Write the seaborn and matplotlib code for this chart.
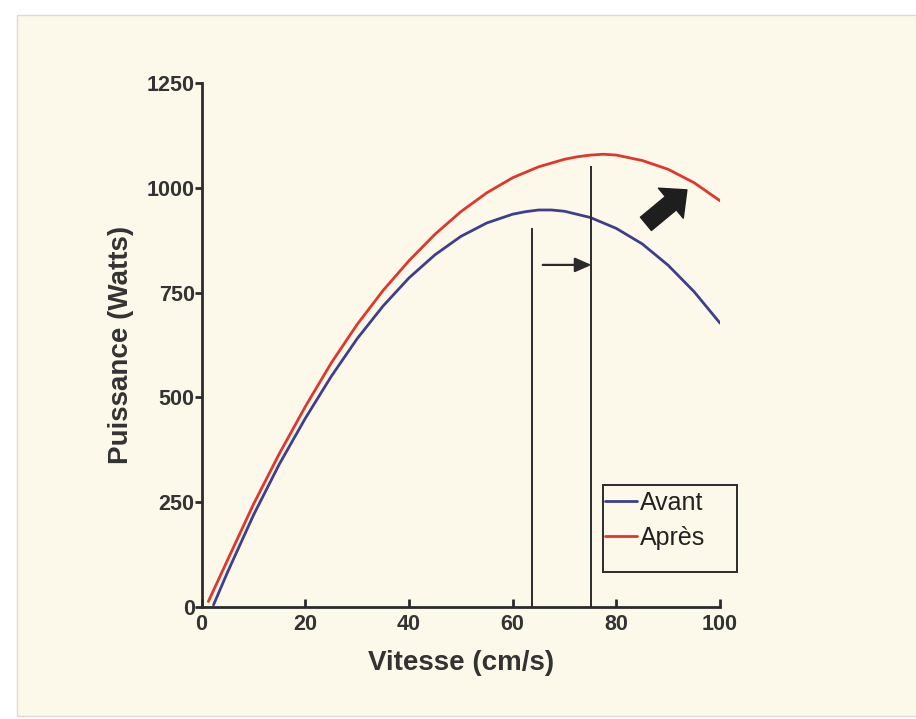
import numpy as np
import pandas as pd
import matplotlib
matplotlib.use("Agg")
import matplotlib.pyplot as plt
from matplotlib.patches import Rectangle
from matplotlib.lines import Line2D
import seaborn as sns

# Values
vitesse_avant = [2.3, 5, 10, 15, 20, 25, 30, 35, 40, 45, 50, 55, 60, 62.5, 65, 67.5, 70, 75, 80, 85, 90, 95, 100]
puissance_avant = [5, 83, 219, 341, 450, 550, 640, 718, 785, 840, 884, 916, 937, 943, 947, 947, 944, 929, 903, 866, 815, 752, 677]

vitesse_apres = [1.3, 5, 10, 15, 20, 25, 30, 35, 40, 45, 50, 55, 60, 65, 70, 72.5, 75, 77.5, 80, 85, 90, 95, 100]
puissance_apres = [13, 112, 245, 366, 478, 582, 674, 755, 826, 889, 943, 988, 1024, 1050, 1068, 1074, 1078, 1080, 1078, 1065, 1044, 1012, 969]

series = ["Avant", "Après"]
colors = ["#3d3f8e", "#e0372c"]

# vertical markers at the two peaks and the annotation arrows
peak_x = [63.7, 75.2]
peak_top = [905, 1052]
shift_arrow_x = [65.8, 75.2]
shift_arrow_y = 816
trend_arrow_start = (85.7, 914)
trend_arrow_end = (93.6, 995)

x_ticks = [0, 20, 40, 60, 80, 100]
y_ticks = [0, 250, 500, 750, 1000, 1250]

df = pd.concat([
    pd.DataFrame({"Vitesse": vitesse_avant, "Puissance": puissance_avant, "serie": "Avant"}),
    pd.DataFrame({"Vitesse": vitesse_apres, "Puissance": puissance_apres, "serie": "Après"}),
])

sns.set_style("ticks")
plt.rcParams["font.family"] = ["Liberation Sans", "DejaVu Sans"]

cream = "#fcf9ea"
ink = "#2b2b2b"

fig = plt.figure(figsize=(9.16, 7.19), dpi=100)
fig.patch.set_facecolor("white")
# cream card behind the chart
fig.patches.append(Rectangle((17 / 916, 3 / 719), 1, 1 - 18 / 719, transform=fig.transFigure,
                             facecolor=cream, edgecolor="#dedbd2", linewidth=1, zorder=-10))

ax = fig.add_axes([0.2201, 0.1558, 0.566, 0.7288])
ax.set_facecolor("none")

sns.lineplot(data=df, x="Vitesse", y="Puissance", hue="serie", hue_order=series,
             palette=colors, estimator=None, sort=False, linewidth=2.0, legend=False, ax=ax)

ax.vlines(peak_x, 0, peak_top, color=ink, linewidth=1.4, zorder=3)
ax.annotate("", xy=(shift_arrow_x[1], shift_arrow_y), xytext=(shift_arrow_x[0], shift_arrow_y),
            arrowprops=dict(arrowstyle="-|>,head_length=0.5,head_width=0.22", color=ink,
                            linewidth=1.6, mutation_scale=20, shrinkA=0, shrinkB=0))
ax.annotate("", xy=trend_arrow_end, xytext=trend_arrow_start,
            arrowprops=dict(arrowstyle="simple,head_length=0.75,head_width=1.4,tail_width=0.62",
                            color="#1e1e1e", mutation_scale=20, shrinkA=0, shrinkB=0))

ax.set_xlim(0, 100)
ax.set_ylim(0, 1250)
ax.set_xticks(x_ticks)
ax.set_yticks(y_ticks)
sns.despine(ax=ax)
for side in ["left", "bottom"]:
    ax.spines[side].set_linewidth(2.0)
    ax.spines[side].set_color(ink)

ax.tick_params(axis="x", direction="in", length=6, width=2, color=ink, pad=5,
               labelsize=15.5, labelcolor="#333333")
ax.tick_params(axis="y", direction="out", length=5, width=2, color=ink, pad=0,
               labelsize=15.5, labelcolor="#333333")
for lab in ax.get_xticklabels() + ax.get_yticklabels():
    lab.set_fontweight("bold")

ax.set_xlabel("Vitesse (cm/s)", fontsize=20, fontweight="bold", color="#333333")
ax.set_ylabel("Puissance (Watts)", fontsize=20, fontweight="bold", color="#333333")
ax.xaxis.set_label_coords(0.5, -0.082)
ax.yaxis.set_label_coords(-0.13, 0.5)

# legend with its own frame (the original box is wider on the right)
ax.add_patch(Rectangle((0.774, 0.067), 0.258, 0.166, transform=ax.transAxes, fill=False,
                       edgecolor=ink, linewidth=1.4, clip_on=False, zorder=4))
handles = [Line2D([0], [0], color=c, linewidth=2.0) for c in colors]
ax.legend(handles, series, loc="upper left", bbox_to_anchor=(0.778, 0.222),
          frameon=False, fontsize=18, handlelength=1.3, handletextpad=0.08,
          borderpad=0, borderaxespad=0, labelspacing=0.45, labelcolor="#222222")

fig.savefig("out.png", dpi=100, facecolor=fig.get_facecolor())
